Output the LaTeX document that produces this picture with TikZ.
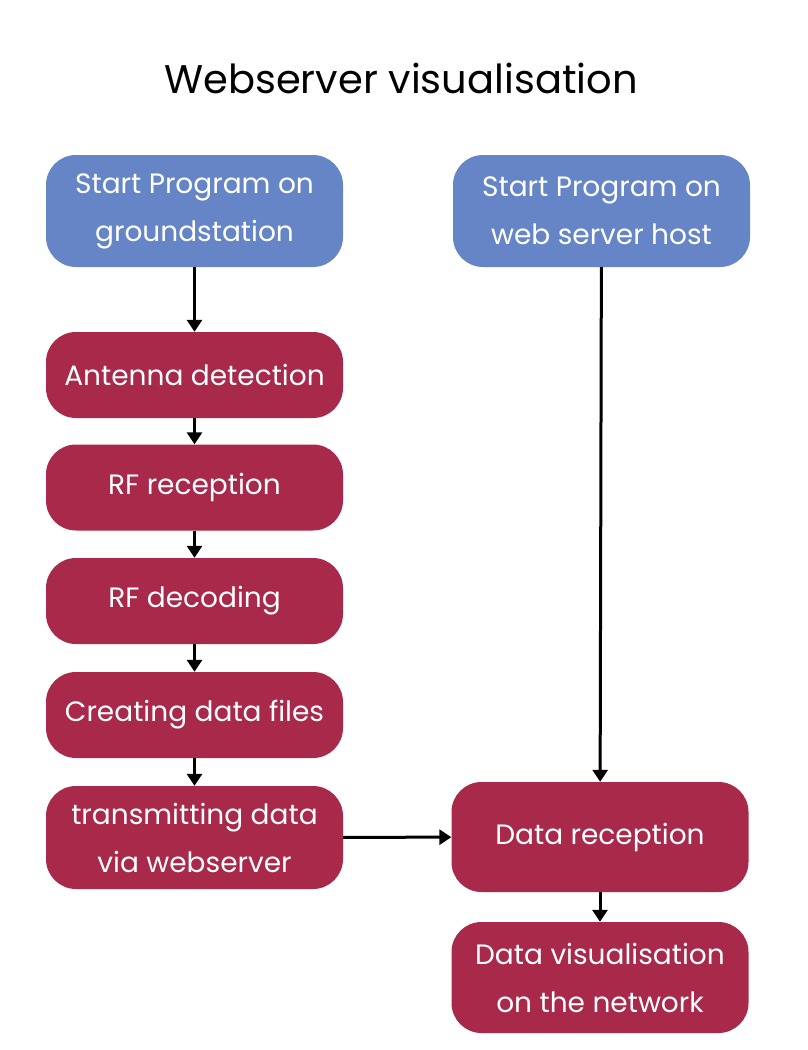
\documentclass[tikz,border=0pt]{standalone}
\usepackage{fontspec}
\setmainfont{Poppins}
\usetikzlibrary{arrows.meta}
\definecolor{stepblue}{HTML}{6585C6}
\definecolor{stepred}{HTML}{A8294A}
\tikzset{
  flowbox/.style={rounded corners=30pt, text=white, align=center, minimum width=297pt,
    font=\fontsize{28}{48}\selectfont, inner sep=0pt},
  startbox/.style={flowbox, fill=stepblue, minimum height=112pt},
  taskbox/.style={flowbox, fill=stepred, minimum height=86pt},
  flow/.style={line width=3pt, -{Triangle[width=15pt,length=12pt]}}
}
\begin{document}
\begin{tikzpicture}[x=1pt,y=-1pt]
  \useasboundingbox (0,0) rectangle (808,1050);

  % Title
  \node[font=\fontsize{40}{48}\selectfont] (title) at (401,78) {Webserver visualisation};

  % Left column: groundstation
  \node[startbox] (startgs) at (194.5,211) {Start Program on\\groundstation};
  \node[taskbox] (antenna) at (194.5,375) {Antenna detection};
  \node[taskbox] (rfrec) at (194.5,487.5) {RF reception};
  \node[taskbox] (rfdec) at (194.5,601) {RF decoding};
  \node[taskbox] (files) at (194.5,715) {Creating data files};
  \node[taskbox, minimum height=103pt] (transmit) at (194.5,837.5) {transmitting data\\via webserver};

  % Right column: web server host
  \node[startbox] (startws) at (601.5,211) {Start Program on\\web server host};
  \node[taskbox, minimum height=110pt] (datarec) at (600,837) {Data reception};
  \node[taskbox, minimum height=111pt] (datavis) at (600,977.5) {Data visualisation\\on the network};

  % Connectors
  \draw[flow] (startgs) -- (antenna);
  \draw[flow] (antenna) -- (rfrec);
  \draw[flow] (rfrec) -- (rfdec);
  \draw[flow] (rfdec) -- (files);
  \draw[flow] (files) -- (transmit);
  \draw[flow] (transmit) -- (datarec);
  \draw[flow] (startws) -- (datarec);
  \draw[flow] (datarec) -- (datavis);
\end{tikzpicture}
\end{document}
